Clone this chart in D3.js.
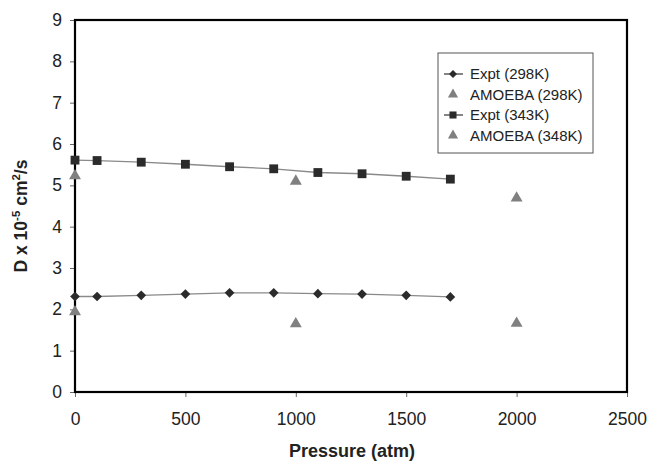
<!DOCTYPE html>
<html>
<head>
<meta charset="utf-8">
<script src="https://cdn.jsdelivr.net/npm/d3@7"></script>
<style>
  body { margin: 0; background: #fff; }
  svg { font-family: 'Liberation Sans', Arial, sans-serif; }
</style>
</head>
<body>
<svg id="chart" width="650" height="462"></svg>
<script>
// pressures (atm) for the experimental curves
const exptPressure = [0, 100, 300, 500, 700, 900, 1100, 1300, 1500, 1700];
const expt298 = [2.31, 2.31, 2.34, 2.37, 2.40, 2.40, 2.38, 2.37, 2.34, 2.30];
const expt343 = [5.61, 5.60, 5.56, 5.51, 5.45, 5.40, 5.31, 5.28, 5.22, 5.15];

// AMOEBA simulations
const amoebaPressure = [0, 1000, 2000];
const amoeba298 = [1.94, 1.65, 1.66];
const amoeba348 = [5.23, 5.10, 4.69];

const xTicks = [0, 500, 1000, 1500, 2000, 2500];
const yTicks = [0, 1, 2, 3, 4, 5, 6, 7, 8, 9];

const legendLabels = ['Expt (298K)', 'AMOEBA (298K)', 'Expt (343K)', 'AMOEBA (348K)'];

const svg = d3.select('#chart');
const plotLeft = 75, plotRight = 627, plotTop = 20, plotBottom = 392;

const x = d3.scaleLinear().domain([0, 2500]).range([plotLeft, plotRight]);
const y = d3.scaleLinear().domain([0, 9]).range([plotBottom, plotTop]);

const markColor = '#2b2b2b';
const lineColor = '#8a8a8a';
const triColor = '#808080';

// axes
const xAxis = svg.append('g')
  .attr('transform', `translate(0,${plotBottom})`)
  .call(d3.axisBottom(x).tickValues(xTicks).tickFormat(d3.format('d')).tickSize(5).tickPadding(16));
const yAxis = svg.append('g')
  .attr('transform', `translate(${plotLeft},0)`)
  .call(d3.axisLeft(y).tickValues(yTicks).tickFormat(d3.format('d')).tickSize(5).tickPadding(8));

[xAxis, yAxis].forEach((a) => {
  a.select('.domain').remove();
  a.selectAll('.tick line').attr('stroke', '#666');
  a.selectAll('.tick text')
    .attr('font-size', 17.5)
    .attr('fill', '#222')
    .attr('font-family', "'Liberation Sans', Arial, sans-serif");
});

// plot frame
svg.append('rect')
  .attr('x', plotLeft).attr('y', plotTop)
  .attr('width', plotRight - plotLeft).attr('height', plotBottom - plotTop)
  .attr('fill', 'none')
  .attr('stroke', '#000')
  .attr('stroke-width', 2.2);

const line = d3.line()
  .x((d) => x(d[0]))
  .y((d) => y(d[1]));

const diamond = d3.symbol().type(d3.symbolDiamond2).size(60);
const square = d3.symbol().type(d3.symbolSquare).size(78);
const triangle = d3.symbol().type(d3.symbolTriangle).size(62);

function drawLine(vals, sym) {
  const pts = exptPressure.map((p, i) => [p, vals[i]]);
  svg.append('path')
    .attr('d', line(pts))
    .attr('fill', 'none')
    .attr('stroke', lineColor)
    .attr('stroke-width', 1.3);
  svg.selectAll(null)
    .data(pts)
    .enter()
    .append('path')
    .attr('d', sym)
    .attr('transform', (d) => `translate(${x(d[0])},${y(d[1])})`)
    .attr('fill', markColor);
}

function drawTriangles(vals) {
  svg.selectAll(null)
    .data(amoebaPressure.map((p, i) => [p, vals[i]]))
    .enter()
    .append('path')
    .attr('d', triangle)
    .attr('transform', (d) => `translate(${x(d[0])},${y(d[1])})`)
    .attr('fill', triColor);
}

drawLine(expt298, diamond);
drawLine(expt343, square);
drawTriangles(amoeba298);
drawTriangles(amoeba348);

// axis titles
svg.append('text')
  .attr('x', 352)
  .attr('y', 457)
  .attr('text-anchor', 'middle')
  .attr('font-size', 18)
  .attr('font-weight', 'bold')
  .attr('fill', '#222')
  .text('Pressure (atm)');

const yTitle = svg.append('text')
  .attr('transform', 'translate(27,216) rotate(-90)')
  .attr('text-anchor', 'middle')
  .attr('font-size', 17.5)
  .attr('font-weight', 'bold')
  .attr('fill', '#222');
yTitle.append('tspan').text('D x 10');
yTitle.append('tspan').attr('dy', -7).attr('font-size', 11.5).text('-5');
yTitle.append('tspan').attr('dy', 7).text(' cm');
yTitle.append('tspan').attr('dy', -7).attr('font-size', 11.5).text('2');
yTitle.append('tspan').attr('dy', 7).text('/s');

// legend
const legend = svg.append('g').attr('transform', 'translate(438,53)');
legend.append('rect')
  .attr('width', 155).attr('height', 100)
  .attr('fill', '#fff')
  .attr('stroke', '#555')
  .attr('stroke-width', 1);

const legendSyms = [
  d3.symbol().type(d3.symbolDiamond2).size(40),
  d3.symbol().type(d3.symbolTriangle).size(45),
  d3.symbol().type(d3.symbolSquare).size(50),
  d3.symbol().type(d3.symbolTriangle).size(45),
];
legendLabels.forEach((label, i) => {
  const row = legend.append('g').attr('transform', `translate(0,${21 + i * 20.5})`);
  const isLine = i % 2 === 0;
  if (isLine) {
    row.append('line')
      .attr('x1', 6).attr('x2', 25)
      .attr('stroke', '#333')
      .attr('stroke-width', 1.2);
  }
  row.append('path')
    .attr('d', legendSyms[i]())
    .attr('transform', 'translate(15,0)')
    .attr('fill', isLine ? markColor : triColor);
  row.append('text')
    .attr('x', 32)
    .attr('dy', '0.35em')
    .attr('font-size', 15)
    .attr('fill', '#222')
    .text(label);
});
</script>
</body>
</html>
